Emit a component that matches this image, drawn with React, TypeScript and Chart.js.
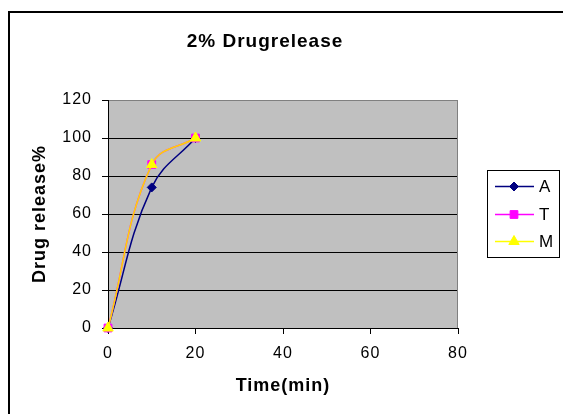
import React, { useEffect, useRef } from "react";
import { Chart, registerables } from "chart.js";
import { drawPoint } from "chart.js/helpers";

Chart.register(...registerables);

const timeMin = [0, 10, 20];
const seriesA = [0, 74, 100];
const seriesT = [0, 86, 100];
const seriesM = [0, 86, 100];
const seriesNames = ["A", "T", "M"];
const seriesColors = ["#000080", "#FF00FF", "#FFFF00"];
const seriesLineColors = ["#000080", "#FF00FF", "#FFD700"];
const seriesMarkers = ["rectRot", "rect", "triangle"];
const seriesMarkerSizes = [4.5, 5.5, 6];
const xTickValues = [0, 20, 40, 60, 80];
const yTickValues = [0, 20, 40, 60, 80, 100, 120];
const chartTitle = "2% Drugrelease";
const xTitle = "Time(min)";
const yTitle = "Drug release%";

const FONT = '"Liberation Sans", Arial, Helvetica, sans-serif';
const W = 563;
const H = 414;

const toPoints = (ys: number[]) => timeMin.map((x, i) => ({ x, y: ys[i] }));

const decorPlugin = {
  id: "decor",
  beforeDraw(chart: any) {
    const { ctx, chartArea: a } = chart;
    (ctx as any).letterSpacing = "1px";
    ctx.save();
    ctx.fillStyle = "#ffffff";
    ctx.fillRect(0, 0, chart.width, chart.height);
    ctx.fillStyle = "#C0C0C0";
    ctx.fillRect(a.left, a.top, a.right - a.left, a.bottom - a.top);
    ctx.restore();
  },
  beforeDatasetsDraw(chart: any) {
    const { ctx, chartArea: a } = chart;
    ctx.save();
    ctx.strokeStyle = "#808080";
    ctx.lineWidth = 1;
    ctx.beginPath();
    ctx.moveTo(Math.round(a.right) - 0.5, a.top);
    ctx.lineTo(Math.round(a.right) - 0.5, a.bottom);
    ctx.stroke();
    ctx.restore();
  },
  afterDraw(chart: any) {
    const { ctx } = chart;
    ctx.save();
    // outer chart border (left and top visible)
    ctx.strokeStyle = "#000000";
    ctx.lineWidth = 2;
    ctx.beginPath();
    ctx.moveTo(9, H + 5);
    ctx.lineTo(9, 12);
    ctx.lineTo(W + 5, 12);
    ctx.stroke();

    // title
    ctx.fillStyle = "#000000";
    ctx.font = `bold 19px ${FONT}`;
    ctx.textAlign = "center";
    ctx.textBaseline = "alphabetic";
    (ctx as any).letterSpacing = "1px";
    ctx.fillText(chartTitle, 265, 47);

    // legend
    (ctx as any).letterSpacing = "0px";
    const lx = 487, ly = 170, lw = 72, lh = 87;
    ctx.fillStyle = "#ffffff";
    ctx.fillRect(lx, ly, lw, lh);
    ctx.strokeStyle = "#000000";
    ctx.lineWidth = 1;
    ctx.strokeRect(lx + 0.5, ly + 0.5, lw, lh);
    const rowsY = [186, 214, 241];
    chart.data.datasets.forEach((ds: any, i: number) => {
      const y = rowsY[i];
      ctx.strokeStyle = seriesColors[i];
      ctx.lineWidth = 1.5;
      ctx.beginPath();
      ctx.moveTo(495, y + 0.5);
      ctx.lineTo(534, y + 0.5);
      ctx.stroke();
      ctx.fillStyle = seriesColors[i];
      ctx.strokeStyle = seriesColors[i];
      ctx.lineWidth = 1;
      drawPoint(ctx, {
        pointStyle: seriesMarkers[i],
        radius: seriesMarkerSizes[i],
        borderWidth: 1,
        rotation: 0,
      } as any, 514, y + 0.5);
      ctx.fillStyle = "#000000";
      ctx.font = `17px ${FONT}`;
      ctx.textAlign = "left";
      ctx.textBaseline = "middle";
      ctx.fillText(ds.label, 539, y + 1);
    });
    ctx.restore();
    (ctx as any).letterSpacing = "0px";
  },
};

export default function App() {
  const canvasRef = useRef<HTMLCanvasElement | null>(null);

  useEffect(() => {
    const canvas = canvasRef.current;
    if (!canvas) return;
    const allSeries = [seriesA, seriesT, seriesM];
    const chart = new Chart(canvas, {
      type: "line",
      data: {
        datasets: allSeries.map((s, i) => ({
          label: seriesNames[i],
          data: toPoints(s),
          borderColor: seriesLineColors[i],
          backgroundColor: seriesColors[i],
          borderWidth: 1.5,
          pointStyle: seriesMarkers[i] as any,
          pointRadius: seriesMarkerSizes[i],
          pointBackgroundColor: seriesColors[i],
          pointBorderColor: seriesColors[i],
          pointBorderWidth: 1,
          tension: 0.4,
          fill: false,
          clip: false,
          order: 2 - i,
        })),
      },
      options: {
        responsive: false,
        animation: false,
        devicePixelRatio: 1,
        layout: { padding: { left: 8, top: 100, right: 105, bottom: 0 } },
        plugins: {
          legend: { display: false },
          title: { display: false },
          tooltip: { enabled: false },
        },
        scales: {
          x: {
            type: "linear",
            min: 0,
            max: 80,
            afterBuildTicks: (scale: any) => {
              scale.ticks = xTickValues.map((v) => ({ value: v }));
            },
            afterFit: (scale: any) => {
              scale.height = 86;
            },
            ticks: {
              color: "#000000",
              font: { family: FONT, size: 16 },
              padding: 10,
              maxRotation: 0,
            },
            grid: {
              drawOnChartArea: false,
              drawTicks: true,
              tickLength: 6,
              tickColor: "#000000",
              color: "#000000",
            },
            border: { display: true, color: "#000000", width: 1 },
            title: {
              display: true,
              text: xTitle,
              color: "#000000",
              font: { family: FONT, size: 18, weight: "bold", lineHeight: 1.2 },
              padding: { top: 0, bottom: 17 },
            },
          },
          y: {
            type: "linear",
            min: 0,
            max: 120,
            afterBuildTicks: (scale: any) => {
              scale.ticks = yTickValues.map((v) => ({ value: v }));
            },
            afterFit: (scale: any) => {
              scale.width = 100;
            },
            ticks: {
              color: "#000000",
              font: { family: FONT, size: 16 },
              padding: 10,
            },
            grid: {
              drawOnChartArea: true,
              drawTicks: true,
              tickLength: 6,
              tickColor: "#000000",
              color: (c: any) => (c.tick && c.tick.value === 120 ? "#808080" : "#000000"),
              lineWidth: 1,
            },
            border: { display: true, color: "#000000", width: 1 },
            title: {
              display: true,
              text: yTitle,
              color: "#000000",
              font: { family: FONT, size: 18, weight: "bold", lineHeight: 1.2 },
              padding: { top: 21, bottom: 0 },
            },
          },
        },
      },
      plugins: [decorPlugin],
    });
    return () => chart.destroy();
  }, []);

  return (
    <div style={{ position: "fixed", left: 0, top: 0, width: W, height: H, background: "#fff" }}>
      <canvas ref={canvasRef} width={W} height={H} style={{ display: "block", width: W, height: H }} />
    </div>
  );
}
